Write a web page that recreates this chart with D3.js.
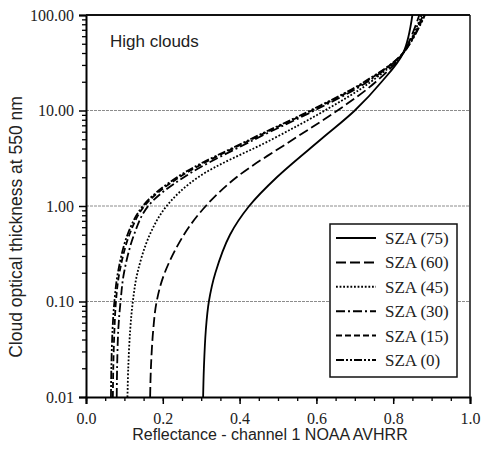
<!DOCTYPE html>
<html lang="en">
<head>
    <meta charset="UTF-8">
    <title>High clouds - reflectance vs optical thickness</title>
    <script src="https://d3js.org/d3.v7.min.js"></script>
    <style>
        body { margin: 0; background: #fff; }
        .tick-label { font-family: "Liberation Serif", "Times New Roman", serif; font-size: 16px; }
        .axis-title { font-family: "Liberation Sans", Arial, sans-serif; font-size: 16px; }
        .legend-text { font-family: "Liberation Serif", "Times New Roman", serif; font-size: 17px; }
    </style>
</head>
<body>
    <svg width="481" height="452"></svg>
    <script>
        // optical thickness values (y) at which the curves were read
        const tau = [0.01, 0.02, 0.05, 0.1, 0.2, 0.5, 1, 2, 5, 10, 20, 40, 100];

        // reflectance (x) for each solar zenith angle
        const sza75 = [0.305, 0.307, 0.312, 0.320, 0.337, 0.375, 0.425, 0.497, 0.612, 0.700, 0.770, 0.826, 0.850];
        const sza60 = [0.167, 0.169, 0.175, 0.184, 0.205, 0.255, 0.312, 0.392, 0.540, 0.655, 0.755, 0.826, 0.868];
        const sza45 = [0.108, 0.110, 0.115, 0.122, 0.134, 0.166, 0.210, 0.292, 0.485, 0.622, 0.742, 0.826, 0.874];
        const sza30 = [0.080, 0.081, 0.084, 0.090, 0.099, 0.125, 0.162, 0.255, 0.440, 0.595, 0.733, 0.826, 0.878];
        const sza15 = [0.070, 0.071, 0.074, 0.078, 0.087, 0.113, 0.152, 0.243, 0.432, 0.588, 0.728, 0.826, 0.881];
        const sza0  = [0.065, 0.066, 0.069, 0.074, 0.083, 0.108, 0.148, 0.237, 0.428, 0.584, 0.725, 0.826, 0.883];

        const seriesNames = ["SZA (75)", "SZA (60)", "SZA (45)", "SZA (30)", "SZA (15)", "SZA (0)"];
        const seriesValues = [sza75, sza60, sza45, sza30, sza15, sza0];

        const xTicks = [0, 0.2, 0.4, 0.6, 0.8, 1.0];
        const yTicks = [0.01, 0.1, 1, 10, 100];
        const gridValues = [0.1, 1, 10];

        const margin = { top: 15, right: 11, bottom: 55, left: 86 };
        const width = 481 - margin.left - margin.right;
        const height = 452 - margin.top - margin.bottom;

        const dashes = ["none", "10,4", "1.8,1.8", "9,3,2,3", "6,3", "8,2,2,2,2,2"];

        const svg = d3.select("svg")
            .append("g")
            .attr("transform", `translate(${margin.left},${margin.top})`);

        const x = d3.scaleLinear().domain([0, 1]).range([0, width]);
        const y = d3.scaleLog().domain([0.01, 100]).range([height, 0]);

        // grid lines
        svg.selectAll(".grid")
            .data(gridValues)
            .enter()
            .append("line")
            .attr("x1", 0)
            .attr("x2", width)
            .attr("y1", d => y(d))
            .attr("y2", d => y(d))
            .attr("stroke", "#8c8c8c")
            .attr("stroke-width", 1)
            .attr("stroke-dasharray", "3,1");

        // minor ticks
        const xMinor = d3.range(0, 1.0001, 0.05);
        const yMinor = [];
        [0.01, 0.1, 1, 10].forEach(b => {
            for (let k = 2; k <= 9; k++) yMinor.push(b * k);
        });

        svg.append("g")
            .attr("transform", `translate(0,${height})`)
            .call(d3.axisBottom(x).tickValues(xMinor).tickSize(4).tickFormat(""))
            .call(g => g.select(".domain").remove())
            .selectAll("line").attr("stroke-width", 1.3);

        svg.append("g")
            .call(d3.axisLeft(y).tickValues(yMinor).tickSize(4).tickFormat(""))
            .call(g => g.select(".domain").remove())
            .selectAll("line").attr("stroke-width", 1.3);

        // major axes
        const xAxis = svg.append("g")
            .attr("transform", `translate(0,${height})`)
            .call(d3.axisBottom(x).tickValues(xTicks).tickSize(7).tickPadding(9).tickFormat(d3.format(".1f")));
        xAxis.select(".domain").attr("stroke-width", 2);
        xAxis.selectAll("line").attr("stroke-width", 1.5);
        xAxis.selectAll("text").attr("class", "tick-label").attr("fill", "#222");

        const yAxis = svg.append("g")
            .call(d3.axisLeft(y).tickValues(yTicks).tickSize(7).tickPadding(5).tickFormat(d3.format(".2f")));
        yAxis.select(".domain").attr("stroke-width", 2);
        yAxis.selectAll("line").attr("stroke-width", 1.5);
        yAxis.selectAll("text").attr("class", "tick-label").attr("fill", "#222");

        // frame top and right
        svg.append("line")
            .attr("x1", 0).attr("x2", width)
            .attr("y1", 0).attr("y2", 0)
            .attr("stroke", "#111").attr("stroke-width", 2);
        svg.append("line")
            .attr("x1", width).attr("x2", width)
            .attr("y1", 0).attr("y2", height)
            .attr("stroke", "#111").attr("stroke-width", 1.5);

        // curves
        const line = d3.line()
            .x(d => x(d.r))
            .y(d => y(d.t))
            .curve(d3.curveCatmullRom.alpha(0.5));

        seriesValues.forEach((vals, i) => {
            const pts = vals.map((r, j) => ({ r: r, t: tau[j] }));
            svg.append("path")
                .datum(pts)
                .attr("fill", "none")
                .attr("stroke", "#000")
                .attr("stroke-width", 1.8)
                .attr("stroke-dasharray", dashes[i])
                .attr("d", line);
        });

        // legend
        const legend = svg.append("g")
            .attr("transform", `translate(${330 - margin.left},${224 - margin.top})`);
        legend.append("rect")
            .attr("width", 127)
            .attr("height", 153)
            .attr("fill", "#fff")
            .attr("stroke", "#111")
            .attr("stroke-width", 1.5);
        seriesNames.forEach((name, i) => {
            const row = legend.append("g").attr("transform", `translate(0,${14 + i * 24.4})`);
            row.append("line")
                .attr("x1", 6).attr("x2", 46)
                .attr("y1", 0).attr("y2", 0)
                .attr("stroke", "#000")
                .attr("stroke-width", 2)
                .attr("stroke-dasharray", dashes[i]);
            row.append("text")
                .attr("class", "legend-text")
                .attr("x", 55)
                .attr("y", 6)
                .attr("fill", "#222")
                .text(name);
        });

        // annotation
        svg.append("text")
            .attr("class", "axis-title")
            .attr("x", 110 - margin.left)
            .attr("y", 47 - margin.top)
            .style("font-size", "17px")
            .attr("fill", "#222")
            .text("High clouds");

        // axis titles
        svg.append("text")
            .attr("class", "axis-title")
            .attr("x", 270 - margin.left)
            .attr("y", 440 - margin.top)
            .attr("text-anchor", "middle")
            .attr("fill", "#222")
            .text("Reflectance - channel 1 NOAA AVHRR");

        svg.append("text")
            .attr("class", "axis-title")
            .attr("transform", `translate(${22 - margin.left},${227 - margin.top}) rotate(-90)`)
            .attr("text-anchor", "middle")
            .style("font-size", "17.5px")
            .attr("fill", "#222")
            .text("Cloud optical thickness at 550 nm");
    </script>
</body>
</html>
